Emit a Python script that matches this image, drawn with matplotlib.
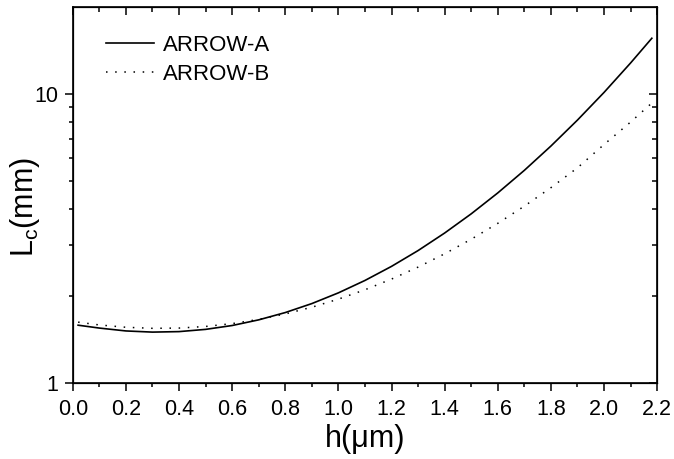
import matplotlib
matplotlib.use("Agg")
import matplotlib.pyplot as plt
from matplotlib.ticker import FixedLocator, NullFormatter, FixedFormatter

plt.rcParams['font.family'] = ['Liberation Sans', 'DejaVu Sans']
plt.rcParams['mathtext.fontset'] = 'custom'
plt.rcParams['mathtext.rm'] = 'Liberation Sans'
plt.rcParams['mathtext.it'] = 'Liberation Sans'

h = [0.02, 0.1, 0.2, 0.3, 0.4, 0.5, 0.6, 0.7, 0.8, 0.9, 1.0, 1.1, 1.2,
     1.3, 1.4, 1.5, 1.6, 1.7, 1.8, 1.9, 2.0, 2.1, 2.18]
arrow_a = [1.585, 1.549, 1.514, 1.500, 1.506, 1.533, 1.581, 1.654, 1.753,
           1.883, 2.051, 2.264, 2.533, 2.873, 3.304, 3.850, 4.548, 5.444,
           6.607, 8.127, 10.13, 12.81, 15.60]
arrow_b = [1.624, 1.588, 1.559, 1.546, 1.549, 1.569, 1.605, 1.660, 1.734,
           1.829, 1.951, 2.102, 2.289, 2.518, 2.800, 3.145, 3.569, 4.093,
           4.742, 5.555, 6.690, 8.000, 9.310]
labels = ["ARROW-A", "ARROW-B"]
xticks = [0.0, 0.2, 0.4, 0.6, 0.8, 1.0, 1.2, 1.4, 1.6, 1.8, 2.0, 2.2]
xminor = [0.1, 0.3, 0.5, 0.7, 0.9, 1.1, 1.3, 1.5, 1.7, 1.9, 2.1]
yticks = [1, 10]
yminor = [2, 3, 4, 5, 6, 7, 8, 9]

fig = plt.figure(figsize=(6.74, 4.59), dpi=100)
ax = fig.add_axes([0.108, 0.1656, 0.867, 0.819])

ax.plot(h, arrow_a, color='black', lw=1.2, ls='-', label=labels[0])
ax.plot(h, arrow_b, color='black', lw=1.1, ls=(0, (1, 5)), label=labels[1])

ax.set_yscale('log')
ax.set_xlim(0, 2.2)
ax.set_ylim(1, 20)

ax.xaxis.set_major_locator(FixedLocator(xticks))
ax.xaxis.set_minor_locator(FixedLocator(xminor))
ax.set_xticklabels([f"{v:.1f}" for v in xticks])
ax.yaxis.set_major_locator(FixedLocator(yticks))
ax.yaxis.set_major_formatter(FixedFormatter([str(v) for v in yticks]))
ax.yaxis.set_minor_locator(FixedLocator(yminor))
ax.yaxis.set_minor_formatter(NullFormatter())

ax.tick_params(which='major', direction='out', length=5.5, width=1.1,
               labelsize=15.5)
ax.tick_params(axis='x', which='major', pad=6)
ax.tick_params(axis='y', which='major', pad=5)
ax.tick_params(which='minor', direction='out', length=3, width=1.1)
for s in ax.spines.values():
    s.set_linewidth(1.2)

# mirrored inward ticks on top and right
axt = ax.twiny()
axt.set_xlim(ax.get_xlim())
axt.xaxis.set_major_locator(FixedLocator(xticks))
axt.xaxis.set_minor_locator(FixedLocator(xminor))
axt.tick_params(which='major', direction='in', length=6, width=1.1, labeltop=False)
axt.tick_params(which='minor', direction='in', length=3.3, width=1.1)
axt.set_xticklabels([])

axr = ax.twinx()
axr.set_yscale('log')
axr.set_ylim(ax.get_ylim())
axr.yaxis.set_major_locator(FixedLocator(yticks))
axr.yaxis.set_minor_locator(FixedLocator(yminor))
axr.yaxis.set_minor_formatter(NullFormatter())
axr.tick_params(which='major', direction='in', length=6, width=1.1, labelright=False)
axr.tick_params(which='minor', direction='in', length=3.3, width=1.1)
axr.set_yticklabels([])

ax.set_xlabel('h(μm)', fontsize=22, labelpad=3)
ax.set_ylabel('$\\mathregular{L_c}$(mm)', fontsize=22, labelpad=4)
ax.yaxis.set_label_coords(-0.053, 0.468)

ax.legend(loc='upper left', bbox_to_anchor=(0.056, 0.925), frameon=False,
          fontsize=16, handlelength=2.2, handletextpad=0.4,
          labelspacing=0.35, borderpad=0, borderaxespad=0)

fig.savefig('out.png', dpi=100)
